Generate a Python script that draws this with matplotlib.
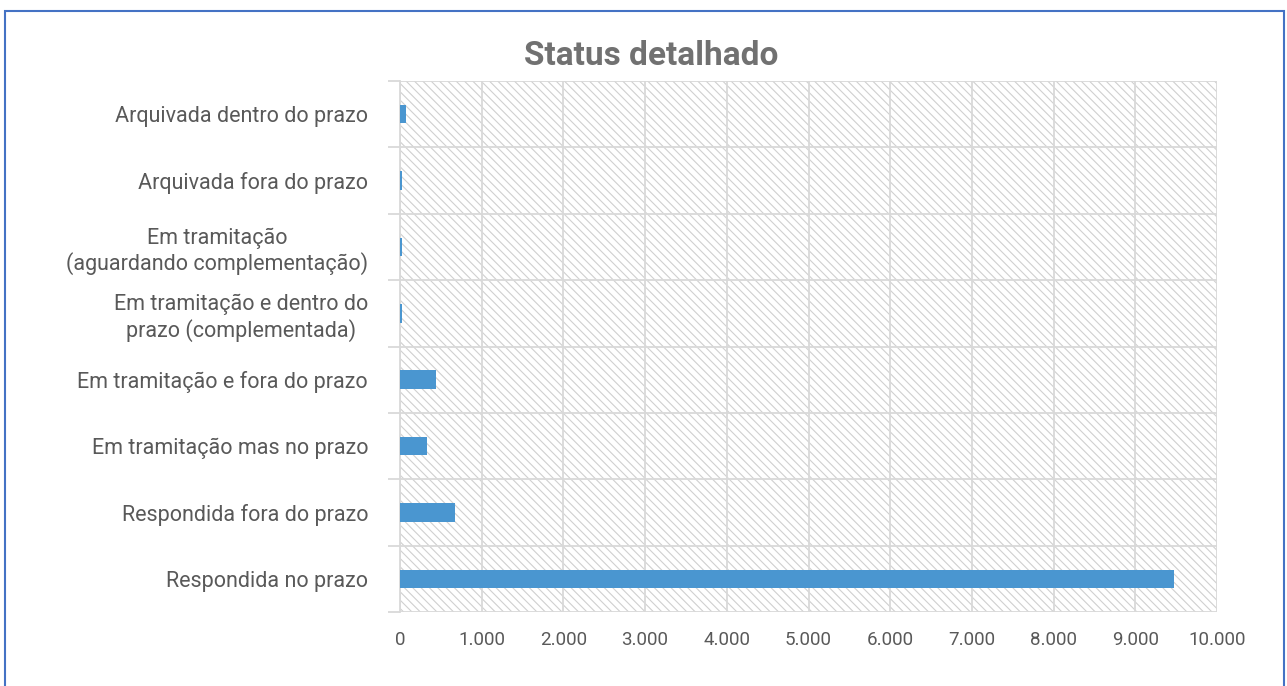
import numpy as np
import matplotlib.pyplot as plt
from matplotlib.patches import Rectangle
from matplotlib.ticker import FuncFormatter, FixedLocator

plt.rcParams['font.family'] = ['Roboto', 'DejaVu Sans']
plt.rcParams['hatch.linewidth'] = 0.8

categorias = ['Arquivada dentro do prazo',
              'Arquivada fora do prazo',
              'Em tramitação\n(aguardando complementação)',
              'Em tramitação e dentro do\nprazo (complementada)',
              'Em tramitação e fora do prazo',
              'Em tramitação mas no prazo',
              'Respondida fora do prazo',
              'Respondida no prazo']
valores = [70, 25, 20, 20, 440, 330, 670, 9475]
xticks = [0, 1000, 2000, 3000, 4000, 5000, 6000, 7000, 8000, 9000, 10000]

cor_texto = '#595959'
cor_grade = '#d9d9d9'

fig = plt.figure(figsize=(12.87, 6.86), dpi=100)
ax = fig.add_axes([400 / 1287, 1 - 612 / 686, 817 / 1287, 531 / 686])

n = len(categorias)
y = np.arange(n)[::-1]
ax.barh(y, valores, height=0.28, color='#4a96d0', zorder=3)

ax.set_xlim(0, 10000)
ax.set_ylim(-0.5, n - 0.5)

# fundo hachurado
ax.add_patch(Rectangle((0, 0), 1, 1, transform=ax.transAxes, facecolor='white',
                       edgecolor='#d0d0d0', hatch='\\\\\\\\', linewidth=0, zorder=0))

ax.set_xticks(xticks)
ax.xaxis.set_major_formatter(FuncFormatter(lambda v, p: f'{int(v):,}'.replace(',', '.')))
ax.set_yticks(y)
ax.set_yticklabels(categorias)
ax.yaxis.set_minor_locator(FixedLocator(np.arange(-0.5, n, 1.0)))

ax.grid(axis='x', which='major', color=cor_grade, linewidth=1.3, zorder=1)
ax.grid(axis='y', which='minor', color=cor_grade, linewidth=1.3, zorder=1)
ax.set_axisbelow(True)

for s in ['top', 'right', 'bottom']:
    ax.spines[s].set_visible(False)
ax.spines['left'].set_color(cor_grade)
ax.spines['left'].set_linewidth(1.3)

ax.tick_params(axis='x', length=0, labelsize=13.5, labelcolor=cor_texto, pad=14)
ax.tick_params(axis='y', which='major', length=0, labelsize=15.5, labelcolor=cor_texto, pad=23)
ax.tick_params(axis='y', which='minor', length=9, color=cor_grade, width=1.3)
for lbl in ax.get_yticklabels():
    lbl.set_multialignment('center')

fig.text(651 / 1287, 1 - 56 / 686, 'Status detalhado', ha='center', va='center',
         fontsize=24, fontweight='bold', color='#717171')

fig.add_artist(Rectangle((5 / 1287, -0.05), 1279 / 1287, 1.05 - 11 / 686,
                         transform=fig.transFigure, fill=False,
                         edgecolor='#4472c4', linewidth=1.5))

fig.savefig('out.png', dpi=100)
